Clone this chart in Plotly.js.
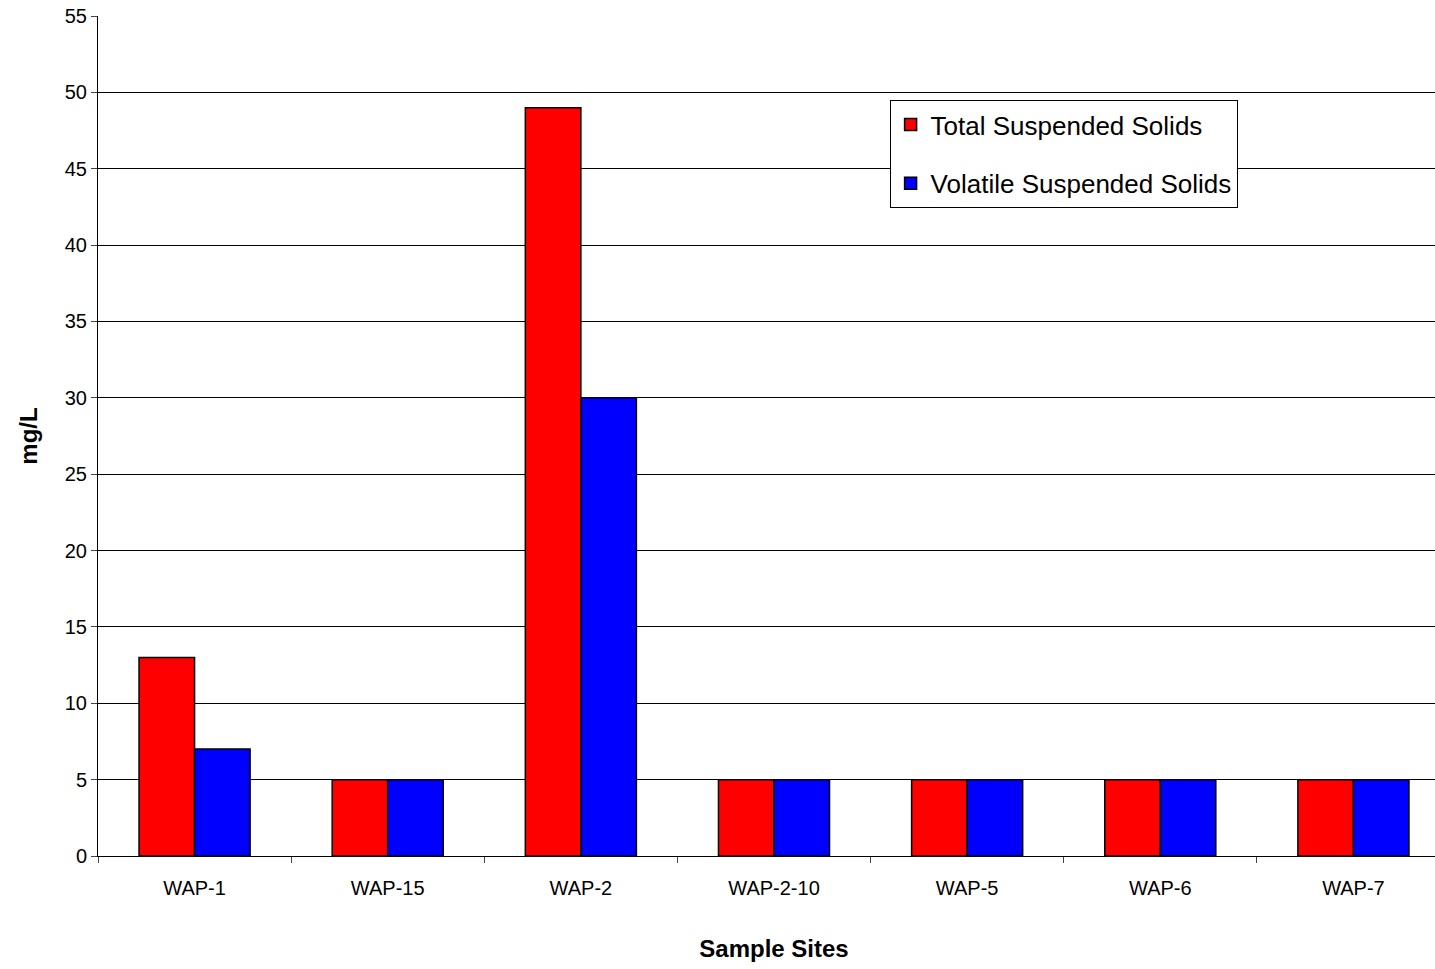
<!DOCTYPE html>
<html><head><script src="https://cdn.plot.ly/plotly-3.0.1.min.js"></script>
<style>body{margin:0;overflow:hidden}</style></head><body>
<div id="c" style="width:1450px;height:969px"></div>
<script>
const categories=["WAP-1","WAP-15","WAP-2","WAP-2-10","WAP-5","WAP-6","WAP-7"];
const tss=[13,5,49,5,5,5,5];
const vss=[7,5,30,5,5,5,5];
const f="Liberation Sans, Arial, sans-serif";
Plotly.newPlot("c",[
{type:"bar",x:categories,y:tss,name:"Total Suspended Solids",legendgroup:"a",marker:{color:"#ff0000",line:{color:"#000",width:1.5}}},
{type:"bar",x:categories,y:vss,name:"Volatile Suspended Solids",legendgroup:"b",marker:{color:"#0000ff",line:{color:"#000",width:1.5}}}
],{
width:1450,height:969,margin:{l:98,r:0,t:16,b:113},
paper_bgcolor:"#fff",plot_bgcolor:"#fff",bargap:0.425,bargroupgap:0,
font:{family:f,size:20,color:"#000"},
xaxis:{showline:true,linecolor:"#000",linewidth:1,ticks:"outside",ticklen:6,tickson:"boundaries",ticklabelstandoff:14,
 title:{text:"<b>Sample Sites</b>",font:{size:24},standoff:42}},
yaxis:{range:[0,55],dtick:5,showline:true,linecolor:"#000",linewidth:1,ticks:"outside",ticklen:6,
 gridcolor:"#000",gridwidth:1,zeroline:false,title:{text:"<b>mg/L</b>",font:{size:24},standoff:20}},
legend:{x:0.5855,y:0.9,xanchor:"left",yanchor:"top",bordercolor:"#000",borderwidth:1,traceorder:"grouped",
 font:{size:26},tracegroupgap:22,bgcolor:"#fff"},
showlegend:true
},{displayModeBar:false});
</script></body></html>
